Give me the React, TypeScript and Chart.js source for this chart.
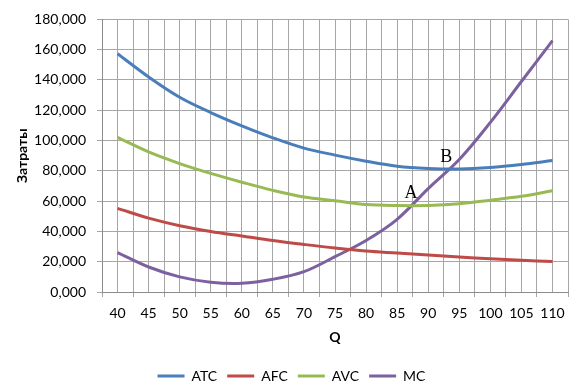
import React, { useEffect, useRef } from 'react';
import { Chart, registerables } from 'chart.js';

Chart.register(...registerables);

const categories = ['40', '45', '50', '55', '60', '65', '70', '75', '80', '85', '90', '95', '100', '105', '110'];
const atcValues = [157.3, 142, 128.6, 118.5, 109.7, 101.8, 95, 90.4, 86.4, 83.1, 81.6, 81.2, 82.2, 84.2, 86.8];
const afcValues = [55.2, 48.8, 43.8, 40, 37, 34, 31.4, 29, 27, 25.7, 24.4, 23.1, 22, 21, 20.1];
const avcValues = [102.1, 92.5, 84.8, 78.3, 72.5, 67.1, 62.7, 60.3, 57.8, 57.1, 57.1, 58.2, 60.6, 63.2, 66.9];
const mcValues = [26, 16.5, 10, 6.5, 5.8, 8.4, 13.4, 23.3, 34, 48, 68.3, 87.5, 112, 139, 166];

const seriesNames = ['ATC', 'AFC', 'AVC', 'MC'];
const seriesColors = ['#4A7EBB', '#BE4B48', '#98B954', '#7D60A0'];

const yMin = 0;
const yMax = 180;
const yStep = 20;

const xTitle = 'Q';
const yTitle = 'Затраты';

const pointLetters = ['A', 'B'];
const pointLetterQ = [87.25, 92.9];
const pointLetterCost = [66.4, 90.3];

const gridColor = '#a6a6a6';
const axisColor = '#8c8c8c';
const fontFamily = 'Lato, "Open Sans", sans-serif';

const letterPlugin = {
  id: 'pointLetters',
  afterDatasetsDraw(chart: any) {
    const { ctx, scales } = chart;
    const x = scales.x;
    const y = scales.y;
    ctx.save();
    ctx.font = '18px "Liberation Serif", serif';
    ctx.fillStyle = '#000';
    ctx.textAlign = 'center';
    ctx.textBaseline = 'alphabetic';
    const q0 = Number(categories[0]);
    const dq = Number(categories[1]) - q0;
    pointLetters.forEach((t, i) => {
      const idx = (pointLetterQ[i] - q0) / dq;
      ctx.fillText(t, x.getPixelForValue(idx), y.getPixelForValue(pointLetterCost[i]) + 6.5);
    });
    ctx.restore();
  },
};

export default function App() {
  const canvasRef = useRef<HTMLCanvasElement | null>(null);

  useEffect(() => {
    document.body.style.margin = '0';
    const canvas = canvasRef.current;
    if (!canvas) return;
    const allValues = [atcValues, afcValues, avcValues, mcValues];
    const chart = new Chart(canvas, {
      type: 'line',
      data: {
        labels: categories,
        datasets: seriesNames.map((name, i) => ({
          label: name,
          data: allValues[i],
          borderColor: seriesColors[i],
          backgroundColor: seriesColors[i],
          borderWidth: 3,
          pointRadius: 0,
          pointHoverRadius: 0,
          tension: 0.35,
          fill: false,
          xAxisID: 'x',
          yAxisID: 'y',
        })),
      },
      options: {
        responsive: false,
        animation: false,
        events: [],
        layout: { padding: { top: 15, right: 5, left: 15, bottom: 0 } },
        plugins: {
          tooltip: { enabled: false },
          legend: {
            position: 'bottom',
            maxHeight: 29,
            labels: {
              font: { family: fontFamily, size: 14 },
              color: '#000',
              boxWidth: 27,
              boxHeight: 3,
              padding: 10,
              generateLabels: (c: any) =>
                (Chart.defaults.plugins.legend.labels as any)
                  .generateLabels(c)
                  .map((l: any) => ({ ...l, lineWidth: 0, fillStyle: l.strokeStyle })),
            },
          },
        },
        scales: {
          x: {
            type: 'category',
            position: 'bottom',
            offset: true,
            grid: { offset: true, color: gridColor, tickLength: 5, drawTicks: true },
            border: { display: true, color: axisColor },
            ticks: {
              font: { family: fontFamily, size: 14 },
              color: '#000',
              padding: 8,
              maxRotation: 0,
              autoSkip: false,
            },
            title: {
              display: true,
              text: xTitle,
              font: { family: fontFamily, size: 14, weight: 'bold' },
              color: '#000',
              padding: { top: 0, bottom: 13.6 },
            },
            afterFit: (s: any) => {
              s.height = 67;
            },
          },
          x2: {
            type: 'category',
            position: 'bottom',
            offset: true,
            grid: { offset: false, color: gridColor, drawTicks: false },
            border: { display: false },
            ticks: { display: false },
            afterFit: (s: any) => {
              s.height = 0;
            },
          },
          y: {
            type: 'linear',
            min: yMin,
            max: yMax,
            ticks: {
              stepSize: yStep,
              font: { family: fontFamily, size: 14 },
              color: '#000',
              padding: 11,
              callback: (v: any) => Number(v).toFixed(3).replace('.', ','),
            },
            grid: { color: gridColor, tickLength: 5 },
            border: { display: true, color: axisColor },
            title: {
              display: true,
              text: yTitle,
              font: { family: fontFamily, size: 14, weight: 'bold', lineHeight: 1 },
              color: '#000',
              padding: { top: 0, bottom: 0 },
            },
            afterFit: (s: any) => {
              s.width = 87;
            },
          },
        },
      } as any,
      plugins: [letterPlugin],
    });
    return () => chart.destroy();
  }, []);

  return (
    <div style={{ width: 573, height: 388, background: '#fff' }}>
      <canvas ref={canvasRef} width={573} height={388} style={{ display: 'block' }} />
    </div>
  );
}
